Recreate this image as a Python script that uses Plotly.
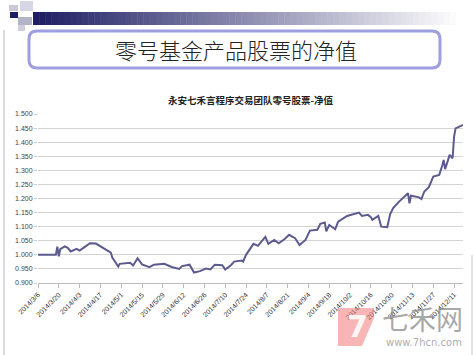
import plotly.graph_objects as go

# ---------------- data ----------------
dates = [
    "2014-03-06", "2014-03-18", "2014-03-19", "2014-03-20", "2014-03-21", "2014-03-24",
    "2014-03-26", "2014-03-28", "2014-04-01", "2014-04-03", "2014-04-07", "2014-04-10",
    "2014-04-14", "2014-04-17", "2014-04-18", "2014-04-22", "2014-04-24", "2014-04-25",
    "2014-04-29", "2014-04-30", "2014-05-07", "2014-05-09", "2014-05-12", "2014-05-15",
    "2014-05-20", "2014-05-23", "2014-05-28", "2014-05-30", "2014-06-04", "2014-06-09",
    "2014-06-11", "2014-06-16", "2014-06-19", "2014-06-23", "2014-06-27", "2014-06-30",
    "2014-07-03", "2014-07-08", "2014-07-10", "2014-07-14", "2014-07-16", "2014-07-21",
    "2014-07-22", "2014-07-24", "2014-07-29", "2014-08-01", "2014-08-06", "2014-08-08",
    "2014-08-12", "2014-08-15", "2014-08-19", "2014-08-22", "2014-08-26", "2014-08-29",
    "2014-09-02", "2014-09-05", "2014-09-10", "2014-09-12", "2014-09-15", "2014-09-16",
    "2014-09-18", "2014-09-22", "2014-09-24", "2014-09-26", "2014-09-30", "2014-10-08",
    "2014-10-10", "2014-10-14", "2014-10-16", "2014-10-17", "2014-10-21", "2014-10-23",
    "2014-10-27", "2014-10-29", "2014-10-31", "2014-11-04", "2014-11-06", "2014-11-10",
    "2014-11-11", "2014-11-12", "2014-11-17", "2014-11-19", "2014-11-21", "2014-11-24",
    "2014-11-27", "2014-12-01", "2014-12-03", "2014-12-04", "2014-12-05", "2014-12-08",
    "2014-12-10", "2014-12-11", "2014-12-12", "2014-12-15", "2014-12-17",
]
nav = [
    1.000, 1.000, 1.029, 0.995, 1.020, 1.030,
    1.025, 1.012, 1.021, 1.015, 1.030, 1.041,
    1.040, 1.030, 1.025, 1.012, 1.008, 0.990,
    0.958, 0.968, 0.972, 0.962, 0.988, 0.966,
    0.956, 0.965, 0.969, 0.968, 0.957, 0.950,
    0.960, 0.965, 0.937, 0.942, 0.951, 0.948,
    0.965, 0.963, 0.948, 0.964, 0.976, 0.980,
    0.976, 1.000, 1.039, 1.032, 1.064, 1.039,
    1.053, 1.041, 1.056, 1.071, 1.059, 1.035,
    1.053, 1.086, 1.089, 1.110, 1.115, 1.083,
    1.106, 1.091, 1.118, 1.124, 1.138, 1.150,
    1.138, 1.142, 1.134, 1.124, 1.138, 1.100,
    1.098, 1.145, 1.166, 1.189, 1.200, 1.219,
    1.183, 1.210, 1.205, 1.198, 1.225, 1.240,
    1.278, 1.284, 1.316, 1.337, 1.304, 1.355,
    1.343, 1.420, 1.449, 1.455, 1.461,
]

slide_title = "零号基金产品股票的净值"
chart_title = "永安七禾言程序交易团队零号股票-净值"
wm_big = "七禾网"
wm_small = "www.7hcn.com"

# ---------------- layout geometry ----------------
W, H = 475, 355
ML, MR, MT, MB = 38, 12, 114, 72
PW, PH = W - ML - MR, H - MT - MB


def px(x):
    return (x - ML) / PW


def py(y):
    return (H - MB - y) / PH


fig = go.Figure()
fig.add_trace(go.Scatter(
    x=dates, y=nav, mode="lines",
    line=dict(color="#5b5b8f", width=2),
    hoverinfo="skip", showlegend=False,
))

shapes = []

# top gradient bar
x0, x1 = 33, 462
n = 70
c0 = (30, 30, 100)
for i in range(n):
    t = i / (n - 1)
    r = int(c0[0] + (255 - c0[0]) * t)
    g = int(c0[1] + (255 - c0[1]) * t)
    b = int(c0[2] + (255 - c0[2]) * t)
    xa = x0 + (x1 - x0) * i / n
    xb = x0 + (x1 - x0) * (i + 1) / n + 0.5
    shapes.append(dict(type="rect", xref="paper", yref="paper",
                       x0=px(xa), x1=px(xb), y0=py(25), y1=py(12),
                       fillcolor=f"rgb({r},{g},{b})", line=dict(width=0), layer="below"))

# decorative squares
for (xa, ya, xb, yb, col) in [
    (9, 5, 18, 11, "#c9c9db"),
    (10, 12, 18, 18, "#1e1e64"),
    (20, 1, 33, 11, "#d6d6e4"),
    (18, 17, 32, 25, "#b4b4c8"),
    (18, 25, 25, 31, "#cfcfdc"),
]:
    shapes.append(dict(type="rect", xref="paper", yref="paper",
                       x0=px(xa), x1=px(xb), y0=py(yb), y1=py(ya),
                       fillcolor=col, line=dict(width=0), layer="below"))

# left slide border
shapes.append(dict(type="line", xref="paper", yref="paper",
                   x0=px(4), x1=px(4), y0=py(30), y1=py(355),
                   line=dict(color="#b8b8b8", width=1)))
# right slide border (lower part)
shapes.append(dict(type="line", xref="paper", yref="paper",
                   x0=px(472), x1=px(472), y0=py(255), y1=py(355),
                   line=dict(color="#c8c8c8", width=1)))

# rounded title box
bx0, by0, bx1, by1, rad = 29, 31, 440, 68, 8


def P(x, y):
    return f"{px(x):.5f},{py(y):.5f}"


path = (f"M {P(bx0 + rad, by0)} L {P(bx1 - rad, by0)} Q {P(bx1, by0)} {P(bx1, by0 + rad)} "
        f"L {P(bx1, by1 - rad)} Q {P(bx1, by1)} {P(bx1 - rad, by1)} "
        f"L {P(bx0 + rad, by1)} Q {P(bx0, by1)} {P(bx0, by1 - rad)} "
        f"L {P(bx0, by0 + rad)} Q {P(bx0, by0)} {P(bx0 + rad, by0)} Z")
shapes.append(dict(type="path", xref="paper", yref="paper", path=path,
                   line=dict(color="#9e9ee0", width=3), fillcolor="white"))

# watermark logo block
shapes.append(dict(type="path", xref="paper", yref="paper",
                   path=(f"M {P(338, 308)} L {P(374, 308)} L {P(374, 318)} L {P(362, 346)} "
                         f"L {P(338, 346)} Z"),
                   fillcolor="rgba(240,120,120,0.55)", line=dict(width=0)))

annotations = [
    dict(text=slide_title, xref="paper", yref="paper", x=px(236), y=py(49),
         showarrow=False, xanchor="center", yanchor="middle",
         font=dict(family="Noto Sans CJK SC", size=22, color="#222", weight=300)),
    dict(text=f"<b>{chart_title}</b>", xref="paper", yref="paper", x=px(251), y=py(100),
         showarrow=False, xanchor="center", yanchor="middle",
         font=dict(family="Noto Sans CJK SC", size=9.5, color="#222")),
    dict(text="<b>7</b>", xref="paper", yref="paper", x=px(357), y=py(326),
         showarrow=False, xanchor="center", yanchor="middle",
         font=dict(family="DejaVu Sans", size=30, color="rgba(255,255,255,0.9)")),
    dict(text=wm_big, xref="paper", yref="paper", x=px(422), y=py(318),
         showarrow=False, xanchor="center", yanchor="middle",
         font=dict(family="Noto Sans CJK SC", size=27, color="rgba(140,140,140,0.75)")),
    dict(text=wm_small, xref="paper", yref="paper", x=px(424), y=py(342),
         showarrow=False, xanchor="center", yanchor="middle",
         font=dict(family="DejaVu Sans", size=10, color="rgba(150,150,150,0.8)")),
]

fig.update_layout(
    width=W, height=H,
    margin=dict(l=ML, r=MR, t=MT, b=MB, pad=0),
    paper_bgcolor="white", plot_bgcolor="white",
    shapes=shapes, annotations=annotations,
    showlegend=False,
    xaxis=dict(
        type="date", range=["2014-03-06", "2014-12-17"],
        tick0="2014-03-06", dtick=14 * 86400000, tickformat="%Y/%-m/%-d",
        tickangle=-45, tickfont=dict(family="Liberation Sans", size=7, color="#333"),
        ticks="outside", ticklen=4, tickcolor="#bbb",
        showline=True, linecolor="#bbb", linewidth=1, showgrid=False, zeroline=False,
    ),
    yaxis=dict(
        range=[0.9, 1.5], dtick=0.05, tick0=0.9, tickformat=".3f",
        tickfont=dict(family="Liberation Sans", size=7, color="#444"),
        ticks="outside", ticklen=3, tickcolor="#ccc",
        showgrid=True, gridcolor="#d4d4d4", gridwidth=1,
        showline=False, zeroline=False,
    ),
)

fig.write_html("out.html")
